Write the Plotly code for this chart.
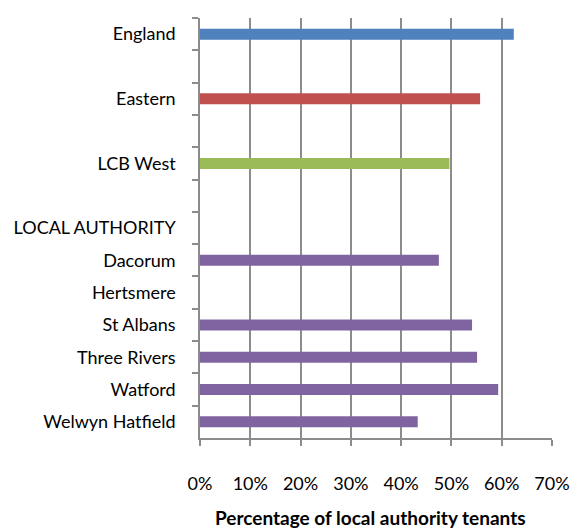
import plotly.graph_objects as go

categories = ["England", " ", "Eastern", "  ", "LCB West", "   ", "LOCAL AUTHORITY",
              "Dacorum", "Hertsmere", "St Albans", "Three Rivers", "Watford", "Welwyn Hatfield"]
values = [0.624, None, 0.557, None, 0.496, None, None,
          0.475, None, 0.541, 0.551, 0.593, 0.433]
colors = ["#4F81BD", "#FFFFFF", "#C0504D", "#FFFFFF", "#9BBB59", "#FFFFFF", "#FFFFFF",
          "#8064A2", "#8064A2", "#8064A2", "#8064A2", "#8064A2", "#8064A2"]
x_ticks = [0, 0.1, 0.2, 0.3, 0.4, 0.5, 0.6, 0.7]
x_ticklabels = ["0%", "10%", "20%", "30%", "40%", "50%", "60%", "70%"]
x_title = "Percentage of local authority tenants"

FONT = "Lato, Carlito, Calibri, sans-serif"
GRID = "#8C8C8C"

fig = go.Figure(go.Bar(
    x=values, y=categories, orientation="h",
    marker=dict(color=colors, line=dict(width=0)),
    hoverinfo="x+y",
))

fig.update_layout(
    width=571, height=520,
    margin=dict(l=192, r=27, t=10, b=90, autoexpand=False),
    paper_bgcolor="white", plot_bgcolor="white",
    bargap=0.66,
    showlegend=False,
    font=dict(family=FONT, size=18, color="#000000"),
    xaxis=dict(
        range=[0, 0.7], tickvals=x_ticks, ticktext=x_ticklabels,
        showgrid=True, gridcolor=GRID, gridwidth=1.5,
        showline=True, linecolor=GRID, linewidth=1.5,
        ticks="outside", ticklen=6, tickcolor=GRID, tickwidth=1.5,
        ticklabelstandoff=23, zeroline=False, fixedrange=True,
    ),
    yaxis=dict(
        categoryorder="array", categoryarray=categories, autorange="reversed",
        showgrid=False, showline=True, linecolor=GRID, linewidth=1.5,
        ticks="outside", ticklen=6, tickcolor=GRID, tickwidth=1.5,
        tickson="boundaries", ticklabelstandoff=19, fixedrange=True,
    ),
    annotations=[dict(
        text="<b>" + x_title + "</b>", xref="paper", yref="paper",
        x=0.483, y=0, yanchor="middle", yshift=-79, showarrow=False,
        font=dict(family=FONT, size=19, color="#000000"),
    )],
)

fig.write_html("out.html")
